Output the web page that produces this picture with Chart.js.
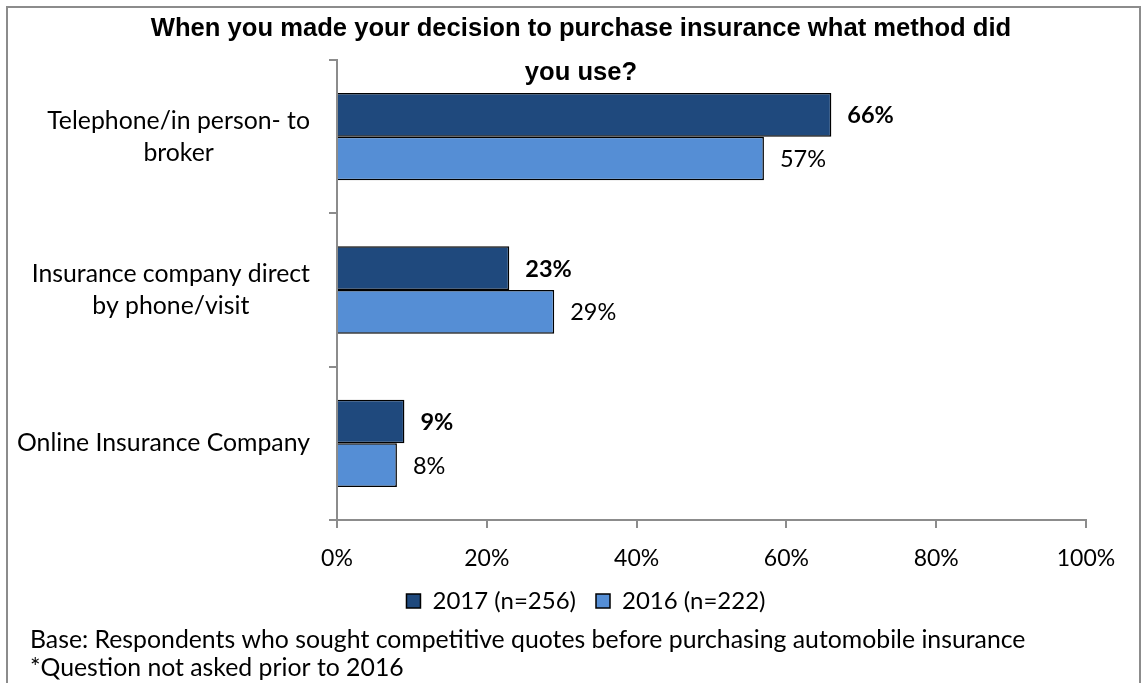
<!DOCTYPE html>
<html>
<head>
<meta charset="utf-8">
<script src="https://cdn.jsdelivr.net/npm/chart.js@4.4.1/dist/chart.umd.min.js"></script>
<style>
  html, body { margin: 0; padding: 0; background: #fff; }
  #wrap { position: relative; width: 1148px; height: 683px; overflow: hidden; }
  #frame { position: absolute; left: 6px; top: 6px; width: 1135px; height: 720px;
           border: 2px solid #8c8c8c; box-sizing: border-box; }
  #c { position: absolute; left: 0; top: 0; }
</style>
</head>
<body>
<div id="wrap">
  <div id="frame"></div>
  <canvas id="c" width="1148" height="683"></canvas>
</div>
<script>
// Survey answers, per purchase method
const categories = [
  ["Telephone/in person- to", "broker"],
  ["Insurance company direct", "by phone/visit"],
  ["Online Insurance Company"]
];
const values2017 = [66, 23, 9];
const values2016 = [57, 29, 8];
const seriesNames = ["2017 (n=256)", "2016 (n=222)"];
const xTickValues = [0, 20, 40, 60, 80, 100];

const titleLines = [
  "When you made your decision to purchase insurance what method did",
  "you use?"
];
const footnotes = [
  "Base: Respondents who sought competitive quotes before purchasing automobile insurance",
  "*Question not asked prior to 2016"
];

const BODY_FONT = "Lato, 'Open Sans', 'DejaVu Sans', sans-serif";
const TITLE_FONT = "'Liberation Sans', Arial, sans-serif";
const AXIS_GREY = "#8c8c8c";

// Title, category labels, value labels and notes
const textPlugin = {
  id: "chartText",
  afterDraw(chart) {
    const ctx = chart.ctx;
    ctx.save();
    ctx.fillStyle = "#000";
    ctx.textBaseline = "middle";

    // title
    ctx.font = "bold 25.6px " + TITLE_FONT;
    ctx.textAlign = "center";
    ctx.fillText(titleLines[0], 581, 29);
    ctx.fillText(titleLines[1], 581, 73);

    // category labels: each block right-aligned, its lines centred
    const y = chart.scales.y;
    ctx.font = "24.8px " + BODY_FONT;
    categories.forEach((lines, i) => {
      const cy = y.getPixelForTick(i);
      const w = Math.max(...lines.map(l => ctx.measureText(l).width));
      const cx = 310 - w / 2;
      const lh = 32;
      lines.forEach((l, k) => {
        ctx.fillText(l, cx, cy + (k - (lines.length - 1) / 2) * lh);
      });
    });

    // footnotes
    ctx.textAlign = "left";
    ctx.font = "24.8px " + BODY_FONT;
    ctx.fillText(footnotes[0], 30, 640);
    ctx.fillText(footnotes[1], 30, 668);
    ctx.restore();
  },
  afterDatasetsDraw(chart) {
    const ctx = chart.ctx;
    ctx.save();
    ctx.textBaseline = "middle";
    ctx.textAlign = "left";
    ctx.fillStyle = "#000";
    chart.data.datasets.forEach((ds, d) => {
      const meta = chart.getDatasetMeta(d);
      ctx.font = (d === 0 ? "bold " : "") + "23.5px " + BODY_FONT;
      meta.data.forEach((bar, i) => {
        ctx.fillText(ds.data[i] + "%", bar.x + 16, bar.y + 1);
      });
    });
    ctx.restore();
  }
};

new Chart(document.getElementById("c"), {
  type: "bar",
  data: {
    labels: categories,
    datasets: [
      {
        label: seriesNames[0],
        data: values2017,
        backgroundColor: "#1f497d",
        borderColor: "#000",
        borderWidth: 1.5,
        categoryPercentage: 0.57,
        barPercentage: 1.0
      },
      {
        label: seriesNames[1],
        data: values2016,
        backgroundColor: "#558ed5",
        borderColor: "#000",
        borderWidth: 1.5,
        categoryPercentage: 0.57,
        barPercentage: 1.0
      }
    ]
  },
  options: {
    indexAxis: "y",
    responsive: false,
    animation: false,
    devicePixelRatio: 1,
    layout: { padding: { top: 60, left: 86, right: 62, bottom: 60 } },
    scales: {
      x: {
        min: 0,
        max: 100,
        afterBuildTicks(scale) {
          scale.ticks = xTickValues.map(v => ({ value: v }));
        },
        afterFit(scale) { scale.height = 49; },
        grid: { drawOnChartArea: false, drawTicks: true, tickLength: 8, color: AXIS_GREY, lineWidth: 2 },
        border: { display: true, color: AXIS_GREY, width: 2 },
        ticks: {
          padding: 17,
          color: "#000",
          font: { family: BODY_FONT, size: 23 },
          maxRotation: 0,
          callback: v => v + "%"
        }
      },
      y: {
        afterFit(scale) { scale.width = 251; },
        grid: { drawOnChartArea: false, offset: true, tickLength: 8, color: AXIS_GREY, lineWidth: 2 },
        border: { display: true, color: AXIS_GREY, width: 2 },
        ticks: { display: false }
      }
    },
    plugins: {
      title: { display: false },
      tooltip: { enabled: false },
      legend: {
        display: true,
        position: "bottom",
        labels: {
          color: "#000",
          font: { family: BODY_FONT, size: 24 },
          boxWidth: 14,
          boxHeight: 14,
          padding: 20
        }
      }
    }
  },
  plugins: [textPlugin]
});
</script>
</body>
</html>
